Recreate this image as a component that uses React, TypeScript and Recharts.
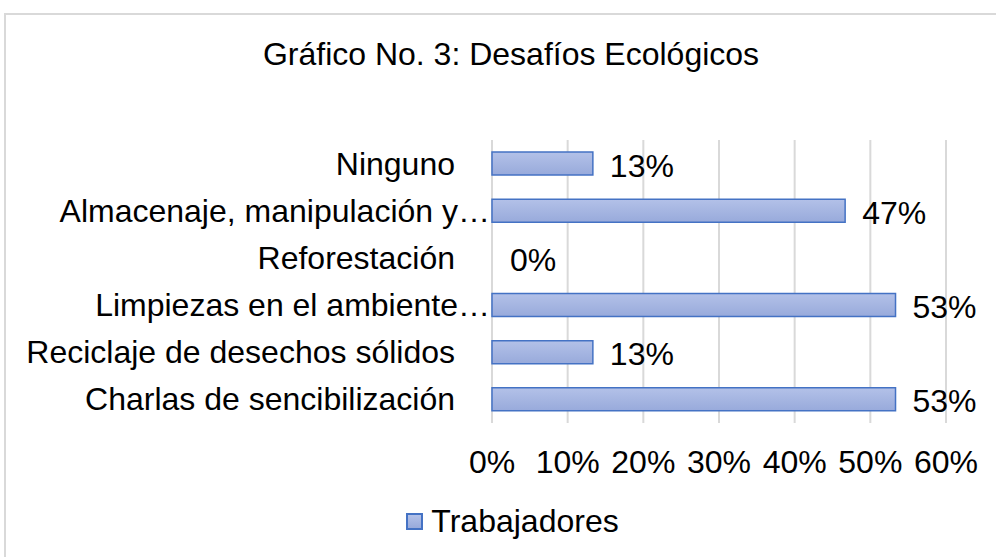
import { Bar, BarChart, CartesianGrid, LabelList, Rectangle, XAxis, YAxis } from "recharts";

const categories = [
  "Ninguno",
  "Almacenaje, manipulación y…",
  "Reforestación",
  "Limpiezas en el ambiente…",
  "Reciclaje de desechos sólidos",
  "Charlas de sencibilización",
];
const trabajadores = [13.33, 46.67, 0, 53.33, 13.33, 53.33];
const xTicks = [0, 10, 20, 30, 40, 50, 60];

const FONT = "'Liberation Sans', Arial, sans-serif";
const FONT_SIZE = 32;
const BAR_STROKE = "#4472c4";

const data = categories.map((name, i) => ({ name, value: trabajadores[i] }));

function CategoryTick(props: any) {
  const { x, y, payload } = props;
  const label = String(payload.value);
  // Excel pushes cut-off labels right up against the axis
  const gap = label.endsWith("…") ? 2 : 37;
  return (
    <text
      x={x - gap}
      y={y}
      textAnchor="end"
      dominantBaseline="central"
      fontSize={FONT_SIZE}
      fontFamily={FONT}
      fill="#000"
    >
      {label}
    </text>
  );
}

function PercentTick(props: any) {
  const { x, y, payload } = props;
  return (
    <text x={x} y={y + 50} textAnchor="middle" fontSize={FONT_SIZE} fontFamily={FONT} fill="#000">
      {payload.value}%
    </text>
  );
}

function ValueLabel(props: any) {
  const { x, y, width, height, value } = props;
  return (
    <text
      x={x + width + 17}
      y={y + height / 2 + 2}
      dominantBaseline="central"
      fontSize={FONT_SIZE}
      fontFamily={FONT}
      fill="#000"
    >
      {Math.round(value)}%
    </text>
  );
}

// zero bars get a 1px min size so their label still shows, but draw nothing
function BarShape(props: any) {
  if (!props.value) return <g />;
  return <Rectangle {...props} />;
}

export default function App() {
  return (
    <div
      style={{
        position: "fixed",
        left: 0,
        top: 0,
        width: 996,
        height: 557,
        overflow: "hidden",
        background: "#fff",
        fontFamily: FONT,
      }}
    >
      <div
        style={{
          position: "absolute",
          left: 4,
          top: 13,
          width: 1200,
          height: 800,
          border: "2px solid #d9d9d9",
        }}
      />
      <div
        style={{
          position: "absolute",
          left: 0,
          top: 36,
          width: 1022,
          textAlign: "center",
          fontSize: FONT_SIZE,
          lineHeight: "36px",
          color: "#000",
        }}
      >
        Gráfico No. 3: Desafíos Ecológicos
      </div>

      <div style={{ position: "absolute", left: 0, top: 0 }}>
        <BarChart
          width={996}
          height={557}
          data={data}
          layout="vertical"
          margin={{ top: 140, right: 50, left: 0, bottom: 104 }}
        >
          <defs>
            <linearGradient id="barFill" x1="0" y1="0" x2="0" y2="1">
              <stop offset="0%" stopColor="#b3c1e8" />
              <stop offset="100%" stopColor="#98aadb" />
            </linearGradient>
          </defs>
          <CartesianGrid horizontal={false} stroke="#d9d9d9" strokeWidth={2} />
          <XAxis
            type="number"
            domain={[0, 60]}
            ticks={xTicks}
            axisLine={false}
            tickLine={false}
            tickSize={0}
            tickMargin={0}
            tick={<PercentTick />}
            interval={0}
          />
          <YAxis
            type="category"
            dataKey="name"
            width={492}
            axisLine={false}
            tickLine={false}
            tickSize={0}
            tickMargin={0}
            tick={<CategoryTick />}
            interval={0}
          />
          <Bar
            dataKey="value"
            name="Trabajadores"
            fill="url(#barFill)"
            stroke={BAR_STROKE}
            strokeWidth={1.5}
            barSize={23}
            minPointSize={1}
            shape={<BarShape />}
            isAnimationActive={false}
          >
            <LabelList dataKey="value" content={<ValueLabel />} />
          </Bar>
        </BarChart>
      </div>

      <div
        style={{
          position: "absolute",
          left: 0,
          top: 503,
          width: 1025,
          display: "flex",
          justifyContent: "center",
          alignItems: "center",
          fontSize: FONT_SIZE,
          lineHeight: "36px",
          color: "#000",
        }}
      >
        <span
          style={{
            display: "inline-block",
            boxSizing: "border-box",
            width: 17,
            height: 17,
            marginRight: 8,
            background: "linear-gradient(#b3c1e8, #98aadb)",
            border: `2px solid ${BAR_STROKE}`,
          }}
        />
        Trabajadores
      </div>
    </div>
  );
}
